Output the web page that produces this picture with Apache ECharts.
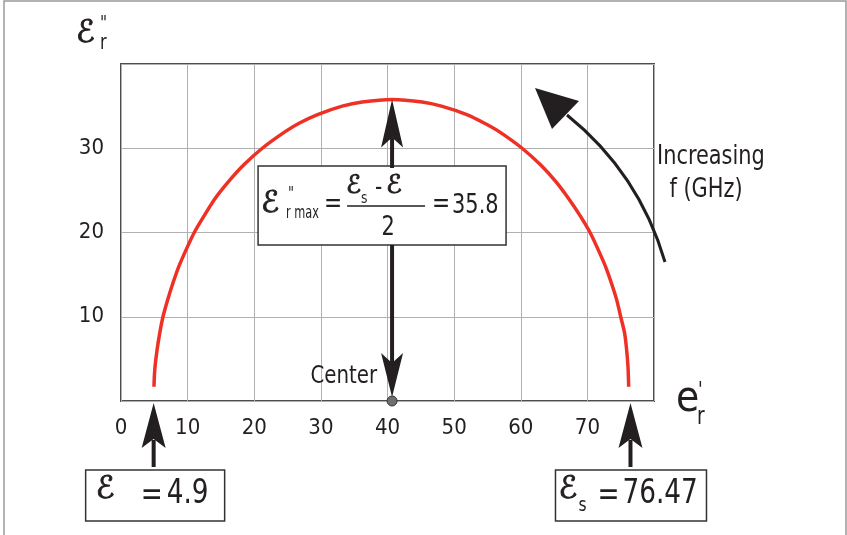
<!DOCTYPE html>
<html>
<head>
<meta charset="utf-8">
<script src="https://cdn.jsdelivr.net/npm/echarts@6/dist/echarts.min.js"></script>
<style>
  html, body { margin: 0; padding: 0; background: #fff; }
  #chart { width: 847px; height: 535px; }
</style>
</head>
<body>
<div id="chart"></div>
<script>
// Cole-Cole plot: e'r along x, e''r along y
var epsReal = [4.95, 5.0, 5.1, 5.4, 5.8, 6.3, 7.0, 7.8, 8.7, 9.8, 11.0, 12.5, 14.1, 16.1, 18.4, 21.2,
  24.7, 26.8, 29.5, 33.2, 36.2, 40.7, 45.2, 48.1, 51.9, 54.5, 56.7, 60.2, 63.0, 65.3, 67.2, 68.9,
  70.4, 71.6, 72.7, 73.6, 74.4, 75.0, 75.6, 75.9, 76.1, 76.2];
var epsImag = [1.7, 2.8, 4.0, 6.0, 8.0, 10.0, 12.0, 14.0, 16.0, 18.0, 20.0, 22.0, 24.0, 26.0, 28.0, 30.0,
  32.0, 33.0, 34.0, 35.0, 35.5, 35.8, 35.5, 35.0, 34.0, 33.0, 32.0, 30.0, 28.0, 26.0, 24.0, 22.0,
  20.0, 18.0, 16.0, 14.0, 12.0, 10.0, 8.0, 6.0, 4.0, 1.7];
var xTicks = ['0', '10', '20', '30', '40', '50', '60', '70'];
var yTicks = ['10', '20', '30'];
var epsInf = 4.9, epsS = 76.47, epsMax = 35.8;

var NARROW = '"DejaVu Sans Condensed", "DejaVu Sans", sans-serif';
var SCRIPT = '"DejaVu Serif", "DejaVu Sans", serif';
var INK = '#231f20';

var chart = echarts.init(document.getElementById('chart'), null, {renderer: 'canvas'});

var points = epsReal.map(function(x, i) { return [x, epsImag[i]]; });

chart.setOption({
  animation: false,
  backgroundColor: '#fff',
  grid: {
    left: 121, right: 193, top: 64, bottom: 134,
    show: true, borderColor: '#4d4d4d', borderWidth: 2
  },
  xAxis: {
    type: 'value', min: 0, max: 80, interval: 10,
    axisLine: {show: false}, axisTick: {show: false},
    splitLine: {lineStyle: {color: '#b0b0b0', width: 1}},
    axisLabel: {
      margin: 16, color: INK, fontSize: 22, fontFamily: NARROW,
      formatter: function(v) { return xTicks.indexOf(String(v)) >= 0 ? String(v) : ''; }
    }
  },
  yAxis: {
    type: 'value', min: 0, max: 40, interval: 10,
    axisLine: {show: false}, axisTick: {show: false},
    splitLine: {lineStyle: {color: '#b0b0b0', width: 1}},
    axisLabel: {
      margin: 17, color: INK, fontSize: 22, fontFamily: NARROW,
      formatter: function(v) { return yTicks.indexOf(String(v)) >= 0 ? String(v) : ''; }
    }
  },
  series: [{
    type: 'line',
    data: points,
    smooth: 0.3,
    symbol: 'none',
    lineStyle: {color: '#ee3124', width: 3.5}
  }]
});

function px(x, y) { return chart.convertToPixel({gridIndex: 0}, [x, y]); }

// dart-shaped arrow head, dir -1 points up, 1 points down
function head(x, tipY, dir, len, halfW, notch) {
  return {
    type: 'polygon', z: 20,
    shape: {points: [[x, tipY], [x + halfW, tipY - dir * len], [x, tipY - dir * notch], [x - halfW, tipY - dir * len]]},
    style: {fill: INK}
  };
}
function shaft(x, y1, y2) {
  return {type: 'line', z: 19, shape: {x1: x, y1: y1, x2: x, y2: y2}, style: {stroke: INK, lineWidth: 4}};
}
function txt(x, y, s, size, opts) {
  opts = opts || {};
  return {
    type: 'text', z: 30, x: x, y: y, scaleX: opts.sx || 0.86,
    style: {
      text: s, fontSize: size, fontFamily: NARROW,
      fill: INK, align: opts.align || 'left', verticalAlign: 'middle'
    }
  };
}
// script capital E, thickened a little with a stroke
function scriptE(x, y, size) {
  return {
    type: 'text', z: 30, x: x, y: y,
    style: {
      text: 'ℰ', fontSize: size, fontFamily: SCRIPT, fontStyle: 'italic',
      fill: INK, stroke: INK, lineWidth: 0.9, align: 'left', verticalAlign: 'middle'
    }
  };
}
function box(x, y, w, h) {
  return {type: 'rect', z: 18, shape: {x: x, y: y, width: w, height: h},
    style: {fill: '#fff', stroke: '#333', lineWidth: 1.5}};
}

var cx = px((epsS + epsInf) / 2, 0)[0];
var axisY = px(0, 0)[1];
var peakY = px(0, epsMax)[1];
var leftX = px(epsInf, 0)[0];
var rightX = px(epsS, 0)[0];

var g = [];
// outer frame
g.push({type: 'rect', z: 1, shape: {x: 4, y: 1, width: 842, height: 545},
  style: {fill: 'none', stroke: '#999', lineWidth: 1.5}});

// vertical arrows to the peak and down to the center
g.push(shaft(cx, peakY + 38, 168));
g.push(head(cx, peakY, -1, 48, 11, 38));
g.push(shaft(cx, 245, axisY - 38));
g.push(head(cx, axisY - 4, 1, 44, 11, 34));
g.push({type: 'circle', z: 22, shape: {cx: cx, cy: axisY, r: 5}, style: {fill: '#6d6e71', stroke: '#333', lineWidth: 1}});
g.push(txt(cx - 15, 376, 'Center', 25, {align: 'right', sx: 0.88}));

// e''r max box
var bx = cx - 134;
g.push(box(bx, 166, 248, 79));
g.push(scriptE(bx + 3, 204, 30));
g.push(txt(bx + 30, 195, '"', 17));
g.push(txt(bx + 28, 214, 'r max', 17, {sx: 0.74}));
g.push(txt(bx + 66, 205, '=', 28));
g.push(scriptE(bx + 88, 186, 25));
g.push(txt(bx + 103, 199, 's', 16));
g.push(txt(bx + 117, 188, '-', 26));
g.push(scriptE(bx + 128, 186, 26));
g.push({type: 'line', z: 30, shape: {x1: bx + 89, y1: 206, x2: bx + 167, y2: 206}, style: {stroke: INK, lineWidth: 1.5}});
g.push(txt(bx + 130, 228, '2', 27, {align: 'center'}));
g.push(txt(bx + 174, 205, '=', 28));
g.push(txt(bx + 194, 206, '35.8', 27));

// bottom arrows and value boxes
[leftX, rightX].forEach(function(x) {
  g.push(shaft(x, 440, 467));
  g.push(head(x, axisY + 2, -1, 45, 12, 36));
});
g.push(box(leftX - 68, 470, 139, 51));
g.push(scriptE(leftX - 58, 490, 31));
g.push(txt(leftX - 13, 496, '=', 34));
g.push(txt(leftX + 13, 494, '4.9', 34));
g.push(box(rightX - 75, 470, 151, 51));
g.push(scriptE(rightX - 72, 490, 31));
g.push(txt(rightX - 52, 506, 's', 20));
g.push(txt(rightX - 33, 496, '=', 34));
g.push(txt(rightX - 8, 494, '76.47', 34));

// axis titles
g.push(scriptE(76, 34, 31));
g.push(txt(100, 44, 'r', 21));
g.push(txt(100, 24, '"', 20));
g.push(txt(676, 400, 'e', 42, {sx: 1}));
g.push(txt(697, 418, 'r', 24));
g.push(txt(698, 391, "'", 22));

// increasing frequency arc
g.push({type: 'bezierCurve', z: 15, shape: {x1: 665, y1: 262, x2: 567, y2: 115, cpx1: 639, cpy1: 173},
  style: {stroke: INK, lineWidth: 3, fill: 'none'}});
g.push({type: 'polygon', z: 16, shape: {points: [[535, 88], [579, 101], [552, 129]]}, style: {fill: INK}});
g.push(txt(657, 157, 'Increasing', 27));
g.push(txt(706, 190, 'f (GHz)', 27, {align: 'center'}));

chart.setOption({graphic: g});
</script>
</body>
</html>
